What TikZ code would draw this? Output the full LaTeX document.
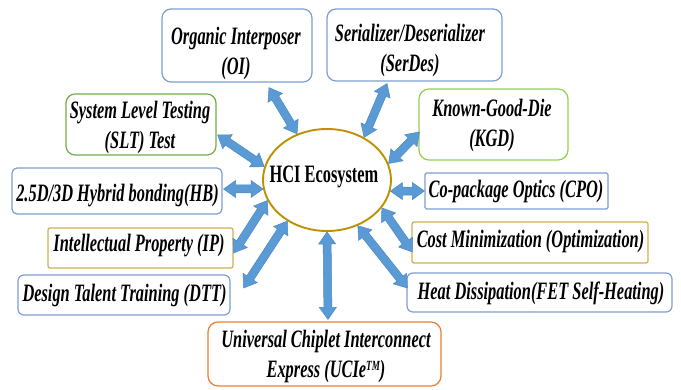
\documentclass[tikz,border=0pt]{standalone}
\usepackage{fontspec}
\setmainfont{Liberation Serif}[FakeStretch=0.655]
\usetikzlibrary{calc,shapes.geometric}

\definecolor{bluebox}{HTML}{7E9ED0}
\definecolor{greenbox}{HTML}{70AD47}
\definecolor{limebox}{HTML}{92D050}
\definecolor{goldbox}{HTML}{D2B04F}
\definecolor{orangebox}{HTML}{ED7D31}
\definecolor{ringgold}{HTML}{BF9000}
\definecolor{arrowblue}{HTML}{5B9BD5}
\definecolor{arrowedge}{HTML}{4A88C6}

\tikzset{
  box/.style={draw, line width=1.2pt, fill=white, inner sep=0pt},
  lbl/.style={font=\bfseries\itshape\fontsize{25}{30}\selectfont, align=center,
              anchor=base, inner sep=0pt},
  barrow/.style={fill=arrowblue, draw=arrowedge, line width=0.5pt, line join=miter},
}

% double-headed block arrow from #1 to #2
\newcommand\blockarrow[2]{%
  \filldraw[barrow] (#1)
    -- ($(#1)!12pt!(#2)!8.5pt!90:(#2)$)
    -- ($(#1)!12pt!(#2)!4pt!90:(#2)$)
    -- ($(#2)!12pt!(#1)!4pt!-90:(#1)$)
    -- ($(#2)!12pt!(#1)!8.5pt!-90:(#1)$)
    -- (#2)
    -- ($(#2)!12pt!(#1)!8.5pt!90:(#1)$)
    -- ($(#2)!12pt!(#1)!4pt!90:(#1)$)
    -- ($(#1)!12pt!(#2)!4pt!-90:(#2)$)
    -- ($(#1)!12pt!(#2)!8.5pt!-90:(#2)$)
    -- cycle;}

\begin{document}
\begin{tikzpicture}[x=1pt, y=-1pt]
\useasboundingbox[fill=white] (0,0) rectangle (681,390);

% central ellipse
\node[ellipse, draw=ringgold, line width=1.9pt, fill=white, inner sep=0pt,
      minimum width=128pt, minimum height=102pt] (eco) at (327,180) {};
\node[font=\bfseries\fontsize{25}{30}\selectfont, anchor=base, inner sep=0pt]
      (eco-t) at (324,183) {HCI Ecosystem};

% surrounding boxes
\node[box, draw=bluebox, rounded corners=9pt, minimum width=150pt, minimum height=73pt] (oi) at (237,45.5) {};
\node[box, draw=bluebox, rounded corners=9pt, minimum width=175pt, minimum height=72pt] (sd) at (414.5,45) {};
\node[box, draw=greenbox, rounded corners=9pt, minimum width=150pt, minimum height=61pt] (slt) at (141,124.5) {};
\node[box, draw=limebox, rounded corners=10pt, minimum width=149pt, minimum height=71pt] (kgd) at (493.5,124.5) {};
\node[box, draw=bluebox, rounded corners=5pt, minimum width=210pt, minimum height=46pt] (hb) at (117,191) {};
\node[box, draw=bluebox, rounded corners=1.5pt, minimum width=183pt, minimum height=36pt] (cpo) at (516.5,191) {};
\node[box, draw=goldbox, rounded corners=2pt, minimum width=185pt, minimum height=40pt] (ip) at (140.5,248) {};
\node[box, draw=bluebox, rounded corners=6pt, minimum width=212pt, minimum height=40pt] (dtt) at (124,295) {};
\node[box, draw=orangebox, rounded corners=10pt, minimum width=233pt, minimum height=64pt] (ucie) at (324.5,354) {};
\node[box, draw=goldbox, rounded corners=2pt, minimum width=236pt, minimum height=41pt] (cost) at (530,242.5) {};
\node[box, draw=bluebox, rounded corners=6pt, minimum width=265pt, minimum height=39pt] (heat) at (539.5,292.5) {};

% box texts (base = baseline of the last line)
\node[lbl] (oi-t)   at (236,75)    {Organic Interposer\\(OI)};
\node[lbl] (sd-t)   at (410,72)    {Serializer/Deserializer\\(SerDes)};
\node[lbl] (slt-t)  at (140,149)   {System Level Testing\\(SLT) Test};
\node[lbl] (kgd-t)  at (492,147)   {Known-Good-Die\\(KGD)};
\node[lbl] (hb-t)   at (117.5,202) {2.5D/3D Hybrid bonding(HB)};
\node[lbl] (cpo-t)  at (516,198)   {Co-package Optics (CPO)};
\node[lbl] (ip-t)   at (139,252)   {Intellectual Property (IP)};
\node[lbl] (dtt-t)  at (124.5,302) {Design Talent Training (DTT)};
\node[lbl] (ucie-t) at (326,378)   {Universal Chiplet Interconnect\\Express (UCIe\raisebox{8pt}{\fontsize{14}{14}\selectfont TM})};
\node[lbl] (cost-t) at (530.5,248) {Cost Minimization (Optimization)};
\node[lbl] (heat-t) at (541,300)   {Heat Dissipation(FET Self-Heating)};

% outer arrow ends
\coordinate (oi-a)   at ($(oi.south)+(32,5)$);
\coordinate (sd-a)   at ($(sd.south)+(-27.5,2)$);
\coordinate (kgd-a)  at ($(kgd.west)+(1,7.5)$);
\coordinate (slt-a)  at ($(slt.east)+(1,10.5)$);
\coordinate (hb-a)   at ($(hb.east)+(1,-2)$);
\coordinate (cpo-a)  at ($(cpo.west)+(0,0)$);
\coordinate (ip-a)   at ($(ip.east)+(0,5)$);
\coordinate (dtt-a)  at ($(dtt.east)+(13,-7)$);
\coordinate (ucie-a) at ($(ucie.north)+(3.5,-2)$);
\coordinate (cost-a) at ($(cost.west)+(1,9.5)$);
\coordinate (heat-a) at ($(heat.west)+(1,-4.5)$);

% connectors
\blockarrow{eco.123}{oi-a}
\blockarrow{eco.49}{sd-a}
\blockarrow{eco.15}{kgd-a}
\blockarrow{eco.168}{slt-a}
\blockarrow{eco.188}{hb-a}
\blockarrow{eco.350}{cpo-a}
\blockarrow{eco.199}{ip-a}
\blockarrow{eco.226}{dtt-a}
\blockarrow{eco.270}{ucie-a}
\blockarrow{eco.333}{cost-a}
\blockarrow{eco.304}{heat-a}
\end{tikzpicture}
\end{document}
